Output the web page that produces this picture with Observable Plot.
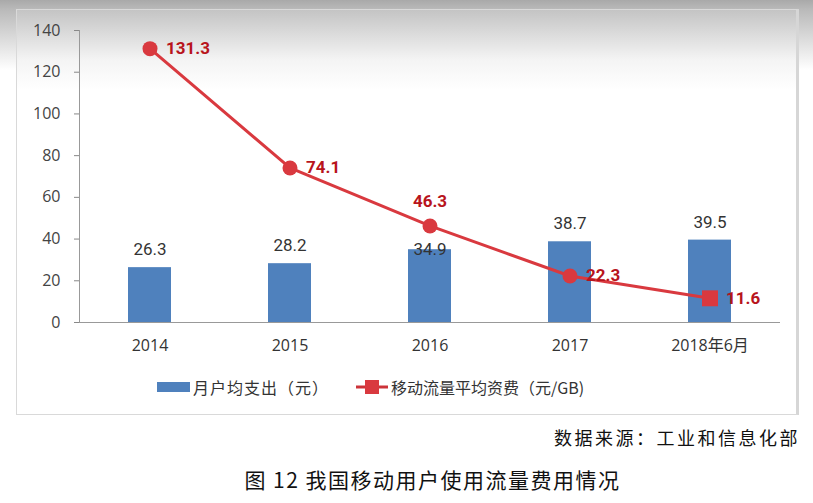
<!DOCTYPE html>
<html><head><meta charset="utf-8">
<script src="https://cdn.jsdelivr.net/npm/d3@7"></script>
<script src="https://cdn.jsdelivr.net/npm/@observablehq/plot@0.6"></script>
<style>
html,body{margin:0;padding:0;background:#fff;width:813px;height:503px;overflow:hidden;}
#page{position:relative;width:813px;height:503px;background:linear-gradient(#a9a9a9 0px,#b9b9b9 9px,#fff 70px);}
#box{position:absolute;left:16px;top:9px;width:783px;height:406px;border:1px solid #d9d9d9;border-right:3px solid #d6d6d6;box-sizing:border-box;background:linear-gradient(#c4c4c4 0px,#f4f4f4 50px,#fff 80px);}
#chart{position:absolute;left:0;top:0;}
.lg{position:absolute;top:375px;font-family:"Noto Sans CJK SC",sans-serif;font-size:16px;color:#333;display:flex;align-items:center;}
#src{position:absolute;right:13px;top:424px;font-family:"Noto Sans CJK SC",serif;font-size:18px;color:#111;letter-spacing:2.5px;}
#title{position:absolute;left:0;width:865px;text-align:center;top:464px;font-family:"Noto Sans CJK SC",serif;font-size:21px;color:#111;letter-spacing:1.5px;}
</style></head>
<body><div id="page"><div id="box"></div><div id="chart"></div>
<div class="lg" style="left:157px;"><span style="display:inline-block;width:33px;height:10px;background:#4f81bd;margin-right:3px;"></span><span style="letter-spacing:1px">月户均支出（元）</span></div>
<div class="lg" style="left:356px;"><svg width="32" height="16" style="margin-right:3px"><line x1="0" y1="8" x2="32" y2="8" stroke="#cc3339" stroke-width="3"/><rect x="9" y="1" width="14" height="14" fill="#d9393f"/></svg>移动流量平均资费（元/GB)</div>
<div id="src">数据来源：工业和信息化部</div>
<div id="title">图 12 我国移动用户使用流量费用情况</div>
</div>
<script>
const categories = ["2014", "2015", "2016", "2017", "2018年6月"];
const spending = [26.3, 28.2, 34.9, 38.7, 39.5];
const tariff = [131.3, 74.1, 46.3, 22.3, 11.6];
const yTicks = [0, 20, 40, 60, 80, 100, 120, 140];

const rows = categories.map((c, i) => ({cat: c, spend: spending[i], tariff: tariff[i], i}));
const numFont = "'Liberation Sans Narrow','Roboto',sans-serif";
const red = "#d9393f";

const chart = Plot.plot({
  width: 813, height: 370,
  marginLeft: 79, marginRight: 33, marginTop: 30, marginBottom: 48,
  style: {background: "transparent", fontFamily: "'Open Sans',sans-serif"},
  x: {domain: categories, type: "band", paddingInner: 0.69, paddingOuter: 0.345, label: null},
  y: {domain: [0, 140], label: null},
  marks: [
    Plot.barY(rows, {x: "cat", y: "spend", fill: "#4f81bd"}),
    Plot.axisY({ticks: yTicks, tickSize: 5, tickPadding: 14, fontSize: 16, stroke: "#888", fill: "#444", label: null, fontFamily: "'Open Sans',sans-serif"}),
    Plot.axisX({tickSize: 0, tickPadding: 17, fontSize: 16, fill: "#333", label: null, fontFamily: "'Open Sans','Noto Sans CJK SC',sans-serif"}),
    Plot.frame({anchor: "left", stroke: "#999"}),
    Plot.ruleY([0], {stroke: "#999", strokeWidth: 1.2}),
    Plot.text(rows.filter(d => d.i !== 2), {x: "cat", y: "spend", text: d => d.spend.toFixed(1), dy: -18, fontSize: 17, fill: "#333", fontFamily: numFont}),
    Plot.text(rows.filter(d => d.i === 2), {x: "cat", y: "spend", text: d => d.spend.toFixed(1), dy: 0, fontSize: 17, fill: "#333", fontFamily: numFont}),
    Plot.line(rows, {x: "cat", y: "tariff", stroke: red, strokeWidth: 3}),
    Plot.dot(rows.filter(d => d.i < 4), {x: "cat", y: "tariff", r: 7.5, fill: red, symbol: "circle"}),
    Plot.dot(rows.filter(d => d.i === 4), {x: "cat", y: "tariff", r: 9, fill: red, symbol: "square"}),
    Plot.text(rows.filter(d => d.i !== 2), {x: "cat", y: "tariff", text: d => d.tariff.toFixed(1), dx: 16, textAnchor: "start", fontSize: 17, fill: "#b8141c", fontWeight: "bold", fontFamily: numFont}),
    Plot.text(rows.filter(d => d.i === 2), {x: "cat", y: "tariff", text: d => d.tariff.toFixed(1), dy: -24, fontSize: 17, fill: "#b8141c", fontWeight: "bold", fontFamily: numFont})
  ]
});
document.getElementById("chart").appendChild(chart);
</script>
</body></html>
